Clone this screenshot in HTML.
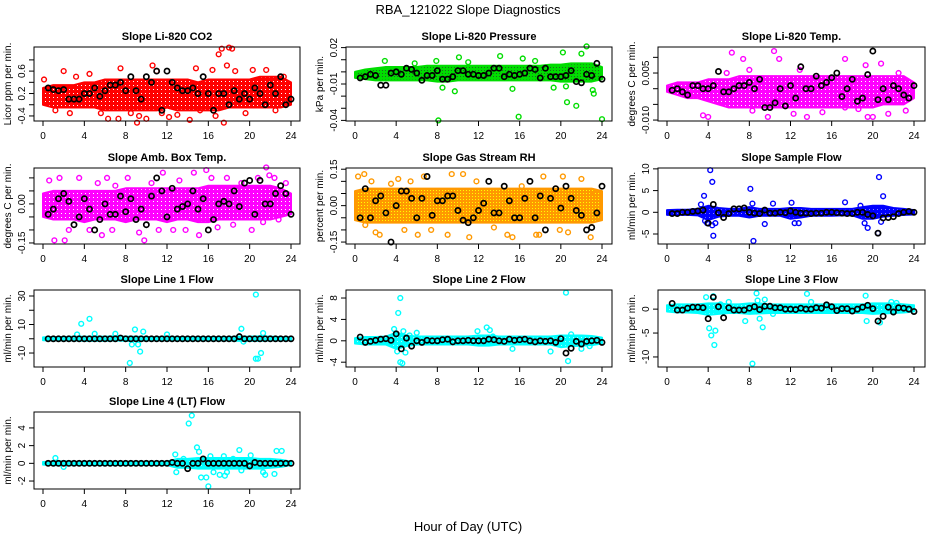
<!DOCTYPE html>
<html><head><meta charset="utf-8"><style>
body{margin:0;background:#fff}
svg{display:block;font-family:"Liberation Sans",sans-serif}
</style></head><body>
<svg id="chart" width="936" height="540" viewBox="0 0 936 540" xmlns="http://www.w3.org/2000/svg">
<defs>
<pattern id="pat-red" width="4" height="4" patternUnits="userSpaceOnUse"><rect width="4" height="4" fill="#ff0000"/><rect x="1" y="1" width="1" height="1" fill="#fff"/></pattern>
<pattern id="pat-green" width="3" height="3" patternUnits="userSpaceOnUse"><rect width="3" height="3" fill="#00dd00"/><rect x="1" y="1" width="1" height="1" fill="#226622"/></pattern>
<pattern id="pat-magenta" width="4" height="4" patternUnits="userSpaceOnUse"><rect width="4" height="4" fill="#ff00ff"/><rect x="1" y="1" width="1" height="1" fill="#fff"/></pattern>
<pattern id="pat-orange" width="3" height="3" patternUnits="userSpaceOnUse"><rect width="3" height="3" fill="#ff9900"/><rect x="1" y="1" width="1" height="1" fill="#ffff00"/></pattern>
<pattern id="pat-blue" width="4" height="4" patternUnits="userSpaceOnUse"><rect width="4" height="4" fill="#0000ff"/><rect x="1" y="1" width="1" height="1" fill="#8888ff"/></pattern>
<pattern id="pat-cyan" width="4" height="4" patternUnits="userSpaceOnUse"><rect width="4" height="4" fill="#00ffff"/><rect x="1" y="1" width="1" height="1" fill="#aaffff"/></pattern>
</defs>
<text x="468" y="14" text-anchor="middle" font-size="13">RBA_121022  Slope Diagnostics</text>
<text x="468" y="531" text-anchor="middle" font-size="13">Hour of Day (UTC)</text>
</svg>
<script>
// shared categories
const bandHours = [0,1,2,3,4,5,6,7,8,9,10,11,12,13,14,15,16,17,18,19,20,21,22,23,24];
const blackHours = [0.5,1,1.5,2,2.5,3,3.5,4,4.5,5,5.5,6,6.5,7,7.5,8,8.5,9,9.5,10,10.5,11,11.5,12,12.5,13,13.5,14,14.5,15,15.5,16,16.5,17,17.5,18,18.5,19,19.5,20,20.5,21,21.5,22,22.5,23,23.5,24];
const xTicks = [0,4,8,12,16,20,24];

// panel 1 CO2
const co2Low = [-0.2,-0.25,-0.25,-0.25,-0.25,-0.25,-0.3,-0.3,-0.3,-0.3,-0.3,-0.3,-0.25,-0.3,-0.3,-0.3,-0.3,-0.3,-0.25,-0.25,-0.25,-0.25,-0.25,-0.25,-0.2];
const co2High = [0.1,0.15,0.15,0.15,0.2,0.2,0.25,0.25,0.25,0.25,0.25,0.25,0.25,0.25,0.25,0.2,0.25,0.25,0.25,0.25,0.25,0.3,0.3,0.3,0.2];
const co2Out = [[0.1,0.25],[2,0.4],[2.6,-0.35],[4.5,0.35],[5.6,-0.35],[6.3,-0.45],[7.3,-0.45],[7.5,0.45],[8.5,-0.35],[9.1,-0.52],[9.3,-0.4],[10,-0.45],[10.6,0.5],[11.5,-0.35],[12.2,-0.42],[14.2,-0.47],[14.8,0.45],[15.2,-0.3],[16.4,0.42],[16.7,-0.4],[17,0.7],[17.3,0.8],[17.5,-0.52],[17.8,0.5],[18,0.82],[18.3,0.8],[18.6,0.4],[19.6,-0.35],[20.3,0.42],[21.6,0.42],[22.5,-0.3],[23.3,0.3],[1.2,-0.3],[3.2,0.3],[11,0.4],[13,-0.38]];
const co2Black = [0.1,0.07,0.05,0.07,-0.1,-0.1,-0.1,0.0,0.0,0.1,-0.05,0.05,0.15,0.15,0.2,0.05,0.3,0.05,-0.1,0.3,0.2,0.4,-0.3,0.4,0.2,0.1,0.05,0.05,0.1,0.0,0.3,0.0,-0.3,0.0,0.0,-0.2,0.05,-0.1,0.0,-0.1,0.1,0.0,-0.2,0.15,0.0,0.3,-0.2,-0.1];
// panel 2 pressure
const presLow = [-0.005,-0.006,-0.007,-0.007,-0.007,-0.007,-0.007,-0.007,-0.008,-0.008,-0.007,-0.007,-0.007,-0.007,-0.007,-0.007,-0.007,-0.007,-0.007,-0.007,-0.008,-0.008,-0.008,-0.008,-0.006];
const presHigh = [0,0.002,0.003,0.004,0.004,0.004,0.004,0.005,0.005,0.005,0.005,0.005,0.005,0.005,0.005,0.005,0.005,0.005,0.005,0.006,0.006,0.007,0.007,0.007,0.004];
const presOut = [[8.1,-0.04],[15.9,-0.037],[24,-0.039],[7.9,0.009],[8.5,-0.013],[9.7,-0.016],[10.1,0.012],[14.1,0.013],[15.3,-0.014],[16.3,0.011],[20.2,0.016],[20.6,-0.025],[21.5,-0.028],[22.5,0.021],[23.2,-0.018],[23.1,-0.015],[19.3,-0.013],[20.5,-0.012],[22,0.015],[2.9,0.009],[5.8,0.007],[11,0.008],[17.5,0.009]];
const presBlack = [-0.005,-0.004,-0.002,-0.003,-0.011,-0.011,-0.001,0.0,-0.002,0.003,0.002,-0.001,-0.007,-0.003,-0.003,0.001,-0.006,-0.006,-0.004,0.001,0.001,-0.002,-0.002,-0.003,-0.003,-0.001,0.003,0.003,-0.004,-0.002,-0.003,-0.002,-0.001,0.003,0.002,-0.005,0.003,-0.004,-0.004,-0.004,-0.003,0.001,-0.008,-0.009,-0.002,-0.003,0.007,-0.006];
// panel 3 Li-820 temp
const ltLow = [-0.001,-0.002,-0.003,-0.003,-0.004,-0.005,-0.006,-0.006,-0.006,-0.006,-0.006,-0.006,-0.006,-0.006,-0.006,-0.006,-0.006,-0.006,-0.006,-0.006,-0.006,-0.005,-0.005,-0.005,-0.003];
const ltHigh = [0.001,0.002,0.002,0.002,0.003,0.003,0.003,0.004,0.004,0.004,0.004,0.004,0.004,0.004,0.004,0.004,0.004,0.004,0.004,0.004,0.004,0.004,0.004,0.004,0.002];
const ltOut = [[3.5,-0.0085],[4,-0.009],[6.3,0.0115],[7.4,0.0095],[8.3,-0.007],[9.8,-0.009],[10.4,0.012],[10.9,0.0095],[12.3,-0.008],[13.6,-0.009],[15.1,-0.0075],[17.3,0.0095],[17.3,-0.006],[18.6,-0.0065],[19.3,0.0075],[19.5,-0.009],[20,-0.009],[20.8,0.008],[21.5,-0.008],[22.5,0.005],[23.2,-0.007],[12.9,0.006],[8,0.006],[5.8,0.005]];
const ltBlack = [-0.0005,0,-0.001,-0.002,0.001,0.001,0,0,0.001,0.0055,-0.001,-0.001,0,0.001,0.001,0.002,0,0.003,-0.006,-0.006,-0.0045,0.0,-0.0055,0.001,-0.003,0.007,0,0,0.004,0.001,0.002,0.0035,0.005,-0.0025,0.0,0.003,-0.004,-0.003,0.0045,0.012,-0.0035,0,-0.0035,0.001,0,-0.002,-0.003,0.001];
// panel 4 amb box temp
const abLow = [-0.05,-0.06,-0.06,-0.06,-0.07,-0.06,-0.06,-0.06,-0.07,-0.06,-0.06,-0.06,-0.07,-0.06,-0.06,-0.07,-0.07,-0.06,-0.06,-0.06,-0.06,-0.06,-0.06,-0.05,-0.04];
const abHigh = [0.04,0.05,0.05,0.05,0.05,0.05,0.05,0.05,0.06,0.06,0.06,0.06,0.06,0.06,0.06,0.06,0.07,0.07,0.07,0.07,0.07,0.07,0.07,0.06,0.04];
const abOut = [[0.6,0.09],[1.1,-0.14],[1.6,0.1],[2.1,-0.14],[2.5,-0.1],[3.5,0.1],[4.5,-0.1],[5.3,0.08],[5.7,-0.12],[6.2,0.1],[6.7,-0.1],[7,0.07],[8.2,0.1],[9.3,-0.11],[9.8,-0.14],[10.5,0.08],[11.2,-0.1],[11.6,0.12],[12.6,-0.1],[13.2,0.09],[13.8,-0.1],[14.6,0.12],[15.1,-0.12],[15.8,0.13],[16.3,0.1],[16.9,-0.09],[17.8,0.1],[18.4,-0.08],[19.2,0.08],[20.2,-0.1],[20.8,0.1],[21.3,-0.07],[21.6,0.14],[21.9,0.11],[22.4,0.1],[22.8,-0.06],[23.5,0.08]];
const abBlack = [-0.04,-0.02,0.02,0.04,0.01,-0.08,-0.05,0.02,-0.02,-0.1,-0.06,0.0,-0.04,-0.04,0.03,-0.03,0.02,-0.06,-0.02,-0.08,0.03,0.1,0.05,-0.05,0.06,-0.02,-0.01,0.0,0.05,-0.02,0.02,-0.1,-0.06,0.0,0.01,0.0,0.05,-0.01,0.08,0.09,-0.04,0.09,0.0,0.0,0.04,0.07,0.04,-0.04];
// panel 5 RH
const rhLow = [-0.06,-0.07,-0.07,-0.07,-0.07,-0.07,-0.07,-0.07,-0.07,-0.07,-0.07,-0.07,-0.07,-0.07,-0.07,-0.07,-0.07,-0.07,-0.07,-0.07,-0.07,-0.07,-0.07,-0.07,-0.06];
const rhHigh = [0.06,0.07,0.07,0.07,0.07,0.07,0.07,0.07,0.07,0.07,0.07,0.07,0.07,0.07,0.07,0.07,0.07,0.07,0.07,0.07,0.07,0.07,0.07,0.07,0.06];
const rhOut = [[0.3,0.12],[0.9,0.13],[1,-0.08],[1.6,0.1],[2,-0.11],[2.4,-0.12],[3.5,0.09],[4.2,0.11],[4.8,-0.1],[5.4,0.1],[6.1,-0.12],[6.7,0.12],[7.4,-0.1],[9.4,0.13],[9,-0.12],[10.5,0.13],[11.1,-0.13],[11.8,0.1],[13.5,-0.09],[14.8,-0.12],[15.3,-0.13],[16.2,0.08],[17.6,-0.12],[17.9,-0.12],[18.3,0.12],[19.9,-0.1],[20.2,0.12],[20.7,-0.11],[22,0.11],[22.9,-0.13],[23.3,0.05]];
const rhBlack = [-0.05,0.07,-0.05,0.02,0.04,-0.03,-0.15,0.0,0.06,0.06,0.03,-0.05,0.03,0.12,-0.04,0.02,0.02,0.04,0.04,-0.02,-0.06,-0.07,-0.05,-0.02,0.01,0.1,-0.03,-0.03,0.08,0.02,-0.05,-0.05,0.03,0.1,-0.05,0.04,-0.1,0.03,0.07,-0.01,0.08,0.03,-0.02,-0.04,-0.1,-0.09,-0.03,0.08];
// panel 6 sample flow
const sfLow = [-0.6,-0.6,-0.6,-0.7,-1.8,-1,-0.8,-0.8,-1.2,-0.8,-0.8,-0.8,-1.5,-1.2,-0.8,-0.8,-0.8,-0.7,-0.7,-1.5,-1.5,-1,-0.8,-0.6,-0.5];
const sfHigh = [0.5,0.6,0.6,0.8,1.5,1,0.8,0.8,1.2,0.8,0.8,0.8,1,1,0.8,0.8,0.8,0.8,0.8,1.2,1.5,1.5,1,0.8,0.5];
const sfOut = [[3.6,3.8],[3.7,-2],[3.9,-2.5],[4.2,9.7],[4.4,7],[4.5,-5.4],[4.4,-3],[4.7,-2.5],[8.1,5.4],[8.3,2],[8.4,-6.6],[9.5,-2.7],[10.3,2],[12.1,2.2],[12.4,-2.5],[12.8,-2.5],[17.3,2.3],[18.8,1.5],[19.2,-2.5],[19.5,-3.6],[20.6,8.1],[21,3.7],[20.5,-4.8],[20.8,-2.2],[3.3,1.8]];
const sfBlack = [-0.3,-0.3,0,0,0.2,0.3,0.5,-2.5,1.8,-0.1,-1.2,-0.3,0.8,0.8,1,0,-0.2,-0.3,0.5,-0.2,-0.2,0,-0.1,0.3,0,-0.2,-0.2,-0.3,-0.2,-0.2,0,0,-0.1,-0.2,-0.3,-0.3,0,0,-0.5,-0.8,-4.8,-1.3,-1.2,-1,-0.3,0,0.2,0];
// panel 7 line 1 flow
const l1Low = [-1,-1.2,-1.2,-1.2,-1.5,-1.5,-1.5,-1.2,-1.5,-1.5,-1.2,-1.2,-1.2,-1.2,-1.2,-1.2,-1.2,-1.2,-1.2,-1.5,-1.5,-1.5,-1.2,-1.2,-1];
const l1High = [1,1.2,1.2,1.5,1.5,1.5,1.5,1.8,1.5,1.5,1.2,1.2,1.5,1.2,1.2,1.2,1.2,1.2,1.2,1.5,1.5,1.8,1.5,1.2,1];
const l1Out = [[3.7,10.5],[4.5,14],[3.3,3],[5,3.5],[7,3.5],[8.4,-17],[8.6,-4],[8.9,6.5],[9.2,-4],[9.4,-9],[9.7,5],[19.2,7],[19.4,-2],[20.6,31],[20.6,-14],[20.8,-14],[21.1,-10],[21.3,4],[12,3]];
const l1Black = [0,0,0,0,0,0,0,0,0,0,0,0,0,0,0.5,0,0,0,0,0,0,0,0,0,0,0,0,0,0,0,0,0,0,0,0,0,0,1.5,0,0,0,0,0,0,0,0,0,0];
// panel 8 line 2 flow
const l2Low = [-0.5,-0.7,-0.7,-0.7,-1.5,-1,-0.7,-0.7,-0.7,-0.7,-0.7,-0.7,-0.9,-0.9,-0.7,-0.7,-0.7,-0.7,-0.7,-0.7,-1.2,-1,-0.9,-0.8,-0.5];
const l2High = [0.5,0.7,0.7,0.8,1.5,1,0.8,0.8,0.8,0.8,0.8,0.8,1,1,0.8,0.8,0.8,0.8,0.8,0.8,1,1,1,0.9,0.6];
const l2Out = [[3.8,2.2],[4.2,5.2],[4.4,8],[4.4,-4],[4.6,-4.2],[4.7,1.8],[4.9,-2.2],[5.3,1],[6,1.5],[11.9,1.8],[12.8,2.5],[13.1,2],[13.4,0.8],[15.3,-1.5],[19,-2],[20.5,9],[20.7,-3.8],[21,1.2],[22,-1.5],[22.8,-1],[4.1,-2]];
const l2Black = [0.7,-0.3,-0.1,0.1,0.3,0.4,0.1,1.3,-1.5,0.5,-1.0,0.0,-0.3,0.1,0,0,0.2,0.3,-0.2,0,0,0.1,0,0,0,0.3,0.2,0,-0.1,0.3,0.1,0.2,0.3,0,-0.2,0,-0.1,0,-0.3,0.4,-2.3,-1.4,-0.1,-0.6,-0.1,0,0.1,-0.3];
// panel 9 line 3 flow
const l3Low = [-0.5,-0.7,-0.7,-0.8,-1.2,-1,-0.8,-0.8,-1,-0.9,-0.8,-0.8,-0.8,-0.8,-0.8,-0.8,-0.8,-0.8,-0.8,-0.8,-1,-0.9,-0.8,-0.7,-0.5];
const l3High = [0.8,1,1,1,1.2,1.2,1,1,1.2,1.2,1,1,1,1,1,1,1,1,1,1,1.2,1.2,1.2,1,0.8];
const l3Out = [[3.8,2.5],[4.1,-4],[4.3,-5.5],[4.5,2.7],[4.6,-7.5],[4.7,-4.5],[5.2,1],[6,1.5],[7.6,-2.5],[8.3,-11.4],[8.7,3.3],[8.7,-0.5],[8.8,1.8],[9,-2],[9.3,-3.8],[9.5,2],[10.3,-1],[13.6,3.2],[14,1.5],[19.3,2.8],[19.4,-2.5],[20.7,-2.8],[21.8,1.5],[22.3,1.3]];
const l3Black = [1.2,-0.2,-0.2,0.2,0.4,0.4,0.3,-2,2.5,0.5,-1.8,0.3,-0.2,-0.2,-0.2,0.2,0.5,-0.1,0.6,0.6,0.3,0.3,0,0,-0.1,0.2,0,0,0.3,0.2,0.9,0.5,-0.3,0.1,0.1,-0.4,0,0.4,0.8,0.1,-2.5,-1.5,0.4,-0.6,0.3,0.2,0,-0.5];
// panel 10 line 4 flow
const l4Low = [-0.15,-0.2,-0.25,-0.2,-0.2,-0.2,-0.2,-0.2,-0.2,-0.2,-0.2,-0.2,-0.2,-0.5,-0.5,-0.6,-0.6,-0.6,-0.6,-0.6,-0.6,-0.6,-0.5,-0.4,-0.2];
const l4High = [0.15,0.2,0.25,0.2,0.2,0.2,0.2,0.2,0.2,0.2,0.2,0.2,0.2,0.5,0.5,0.6,0.6,0.6,0.6,0.6,0.6,0.5,0.5,0.4,0.2];
const l4Out = [[1.2,0.6],[2,-0.4],[12.8,1],[12.9,-1],[13.6,0.5],[14.1,4.5],[14.4,5.4],[14.9,1.8],[15.1,1.3],[15.3,-1.6],[15.8,-1.6],[16,-2.6],[16.2,0.8],[16.5,-1],[17.1,-1.3],[17.6,-1.4],[17.8,-1],[17.5,0.8],[19,1.5],[19.2,-0.8],[20.1,0.9],[21.3,-1],[21.5,-1.3],[22.4,-1.2],[22.6,1.4],[23.1,1.4],[18.4,0.5]];
const l4Black = [0,0,0,0,0,0,0,0,0,0,0,0,0,0,0,0,0,0,0,0,0,0,0,0,0.1,0,0,-0.6,0,0,0.5,0,0,0,0,0,0,0,0,-0.3,0.1,0,0,0,0,0,0,0];

// y ticks and labels
const yTicks1 = [-0.4,-0.2,0,0.2,0.4,0.6], yLabels1 = ["-0.4","","0.2","","0.6",""];
const yTicks2 = [-0.04,-0.03,-0.02,-0.01,0,0.01,0.02], yLabels2 = ["-0.04","","","-0.01","","","0.02"];
const yTicks3 = [-0.01,-0.005,0,0.005,0.01], yLabels3 = ["-0.010","","","0.005",""];
const yTicks4 = [-0.15,-0.1,-0.05,0,0.05,0.1], yLabels4 = ["-0.15","","","0.00","",""];
const yTicks5 = [-0.15,-0.1,-0.05,0,0.05,0.1,0.15], yLabels5 = ["-0.15","","","0.00","","","0.15"];
const yTicks6 = [-5,0,5,10], yLabels6 = ["-5","0","5","10"];
const yTicks7 = [-10,0,10,20,30], yLabels7 = ["-10","","10","","30"];
const yTicks8 = [-4,0,4,8], yLabels8 = ["-4","0","4","8"];
const yTicks9 = [-10,-5,0], yLabels9 = ["-10","-5","0"];
const yTicks10 = [-2,0,2,4], yLabels10 = ["-2","0","2","4"];

const cols = [{l:34,r:300,x0:43,x24:291},{l:346,r:612,x0:355,x24:602},{l:658,r:925,x0:667,x24:914}];
const rows = [{t:47,b:121},{t:168,b:244},{t:290,b:367},{t:412,b:489}];
const panels = [
 {name:"co2",title:"Slope Li-820 CO2",ylab:"Licor ppm per min.",c:0,r:0,dom:[-0.49,0.83],color:"#ff0000",pat:"pat-red",low:co2Low,high:co2High,out:co2Out,black:co2Black,yt:yTicks1,yl:yLabels1},
 {name:"pressure",title:"Slope Li-820 Pressure",ylab:"kPa per min.",c:1,r:0,dom:[-0.0405,0.0205],color:"#00dd00",pat:"pat-green",low:presLow,high:presHigh,out:presOut,black:presBlack,yt:yTicks2,yl:yLabels2},
 {name:"li820-temp",title:"Slope Li-820 Temp.",ylab:"degrees C per min.",c:2,r:0,dom:[-0.0103,0.0133],color:"#ff00ff",pat:"pat-magenta",low:ltLow,high:ltHigh,out:ltOut,black:ltBlack,yt:yTicks3,yl:yLabels3},
 {name:"amb-box-temp",title:"Slope Amb. Box Temp.",ylab:"degrees C per min.",c:0,r:1,dom:[-0.154,0.138],color:"#ff00ff",pat:"pat-magenta",low:abLow,high:abHigh,out:abOut,black:abBlack,yt:yTicks4,yl:yLabels4},
 {name:"gas-stream-rh",title:"Slope Gas Stream RH",ylab:"percent per min.",c:1,r:1,dom:[-0.158,0.155],color:"#ff9900",pat:"pat-orange",low:rhLow,high:rhHigh,out:rhOut,black:rhBlack,yt:yTicks5,yl:yLabels5},
 {name:"sample-flow",title:"Slope Sample Flow",ylab:"ml/min per min.",c:2,r:1,dom:[-7.3,10.2],color:"#0000ff",pat:"pat-blue",low:sfLow,high:sfHigh,out:sfOut,black:sfBlack,yt:yTicks6,yl:yLabels6},
 {name:"line1-flow",title:"Slope Line 1 Flow",ylab:"ml/min per min.",c:0,r:2,dom:[-19.8,34.2],color:"#00ffff",pat:"pat-cyan",low:l1Low,high:l1High,out:l1Out,black:l1Black,yt:yTicks7,yl:yLabels7},
 {name:"line2-flow",title:"Slope Line 2 Flow",ylab:"ml/min per min.",c:1,r:2,dom:[-4.9,9.5],color:"#00ffff",pat:"pat-cyan",low:l2Low,high:l2High,out:l2Out,black:l2Black,yt:yTicks8,yl:yLabels8},
 {name:"line3-flow",title:"Slope Line 3 Flow",ylab:"ml/min per min.",c:2,r:2,dom:[-12.1,4],color:"#00ffff",pat:"pat-cyan",low:l3Low,high:l3High,out:l3Out,black:l3Black,yt:yTicks9,yl:yLabels9},
 {name:"line4-flow",title:"Slope Line 4 (LT) Flow",ylab:"ml/min per min.",c:0,r:3,dom:[-2.9,5.8],color:"#00ffff",pat:"pat-cyan",low:l4Low,high:l4High,out:l4Out,black:l4Black,yt:yTicks10,yl:yLabels10}
];

const NS="http://www.w3.org/2000/svg";
const svg=document.getElementById('chart');
function mk(tag,attrs,parent){const e=document.createElementNS(NS,tag);for(const k in attrs)e.setAttribute(k,attrs[k]);(parent||svg).appendChild(e);return e;}

panels.forEach(p=>{
  const C=cols[p.c],R=rows[p.r];
  const xs=h=>C.x0+(C.x24-C.x0)*h/24;
  const ys=v=>R.b-(v-p.dom[0])/(p.dom[1]-p.dom[0])*(R.b-R.t);
  const g=mk('g',{});
  
  
  const t=mk('text',{x:(C.l+C.r)/2,y:R.t-7,'text-anchor':'middle','font-size':11,'font-weight':'bold'},g);
  t.textContent=p.title;
  
  
  const yl=mk('text',{x:0,y:0,'text-anchor':'middle','font-size':10,transform:`translate(${C.l-23},${(R.t+R.b)/2}) rotate(-90)`},g);
  yl.textContent=p.ylab;
  
  
  // band
  let pts=bandHours.map((h,i)=>xs(h)+','+ys(p.high[i]));
  pts=pts.concat(bandHours.map((h,i)=>xs(h)+','+ys(p.low[i])).reverse());
  const band=mk('polygon',{points:pts.join(' '),fill:'url(#'+p.pat+')',stroke:p.color,'stroke-width':2,'stroke-linejoin':'round'},g);
  
  
  p.out.forEach(o=>{
    const c=mk('circle',{cx:xs(o[0]),cy:ys(o[1]),r:2.4,fill:'none',stroke:p.color,'stroke-width':1.4},g);
    
    
  });
  p.black.forEach((v,i)=>{
    const c=mk('circle',{cx:xs(blackHours[i]),cy:ys(v),r:2.6,fill:'none',stroke:'#000','stroke-width':1.7},g);
    
    
  });
  const box=mk('rect',{x:C.l,y:R.t,width:C.r-C.l,height:R.b-R.t,fill:'none',stroke:'#000','stroke-width':1},g);
  
  
  const xa=mk('g',{},g);
  
  
  mk('line',{x1:xs(0),x2:xs(24),y1:R.b,y2:R.b,stroke:'#000'},xa);
  xTicks.forEach(h=>{
    mk('line',{x1:xs(h),x2:xs(h),y1:R.b,y2:R.b+5,stroke:'#000'},xa);
    const tx=mk('text',{x:xs(h),y:R.b+18,'text-anchor':'middle','font-size':10},xa);
    tx.textContent=h;
    
    
  });
  const ya=mk('g',{},g);
  
  
  p.yt.forEach((v,i)=>{
    mk('line',{x1:C.l-5,x2:C.l,y1:ys(v),y2:ys(v),stroke:'#000'},ya);
    if(p.yl[i]){
      const tx=mk('text',{x:0,y:0,'text-anchor':'middle','font-size':10,transform:`translate(${C.l-9},${ys(v)}) rotate(-90)`},ya);
      tx.textContent=p.yl[i];
      
      
    }
  });
});
</script>
</body></html>
